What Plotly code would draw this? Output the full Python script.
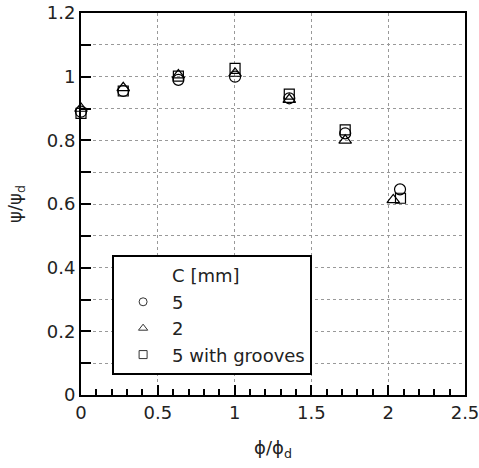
import plotly.graph_objects as go

phi_c5 = [0.0, 0.275, 0.634, 1.003, 1.356, 1.72, 2.077]
psi_c5 = [0.89, 0.955, 0.99, 1.0, 0.932, 0.822, 0.646]
phi_c2 = [0.0, 0.275, 0.634, 1.003, 1.356, 1.72, 2.033]
psi_c2 = [0.90, 0.965, 1.005, 1.01, 0.928, 0.80, 0.613]
phi_g = [0.0, 0.275, 0.634, 1.003, 1.356, 1.72, 2.08]
psi_g = [0.885, 0.955, 1.002, 1.026, 0.945, 0.833, 0.618]

series = [
    ("5", phi_c5, psi_c5, "circle-open", 11),
    ("2", phi_c2, psi_c2, "triangle-up-open", 11),
    ("5 with grooves", phi_g, psi_g, "square-open", 10),
]

FONT = "DejaVu Sans, Arial, sans-serif"
XR = [0, 2.5]
YR = [0, 1.2000001]

fig = go.Figure()
# minor-tick helper axes
fig.add_trace(go.Scatter(x=[None], y=[None], xaxis="x2", yaxis="y2",
                         showlegend=False, hoverinfo="skip"))
# legend header entry (invisible marker)
fig.add_trace(go.Scatter(x=[None], y=[None], mode="markers", name="C [mm]",
                         marker=dict(symbol="circle-open", size=8, color="rgba(0,0,0,0)",
                                     line=dict(color="rgba(0,0,0,0)"))))
for name, xs, ys, sym, sz in series:
    fig.add_trace(go.Scatter(x=xs, y=ys, mode="markers", name=name, showlegend=False,
                             cliponaxis=False,
                             marker=dict(symbol=sym, size=sz, color="black",
                                         line=dict(width=1.2, color="black"))))
    fig.add_trace(go.Scatter(x=[None], y=[None], mode="markers", name=name,
                             marker=dict(symbol=sym, size=8, color="#333333",
                                         line=dict(width=1, color="#333333"))))

grid = dict(gridcolor="#999999", griddash="dot", gridwidth=1)

fig.update_layout(
    width=479, height=468,
    margin=dict(l=81, r=14, t=13, b=73),
    plot_bgcolor="white", paper_bgcolor="white",
    font=dict(family=FONT, size=18, color="#222222"),
    showlegend=True,
    legend=dict(x=0.081, y=0.366, xanchor="left", yanchor="top",
                bordercolor="black", borderwidth=2, bgcolor="white",
                font=dict(size=18), itemwidth=48, tracegroupgap=0),
    xaxis=dict(range=XR, tickmode="linear", dtick=0.5, tick0=0,
               ticks="inside", ticklen=10, automargin=False, ticklabeloverflow="allow",
               tickwidth=1.5, tickcolor="black", showline=True, linecolor="black",
               linewidth=2, mirror=True, zeroline=False, showgrid=True, **grid,
               title=dict(text="ϕ/ϕ<sub>d</sub>", standoff=20, font=dict(size=18)),
               tickfont=dict(size=18)),
    yaxis=dict(range=YR, tickmode="linear", dtick=0.2, tick0=0,
               ticks="inside", ticklen=10, automargin=False, ticklabeloverflow="allow",
               tickwidth=1.5, tickcolor="black", showline=True, linecolor="black",
               linewidth=2, mirror=True, zeroline=False, showgrid=True, **grid,
               title=dict(text="ψ/ψ<sub>d</sub>", standoff=20, font=dict(size=18)),
               tickfont=dict(size=18)),
    xaxis2=dict(range=XR, overlaying="x", anchor="y", side="bottom",
                tickmode="linear", dtick=0.1, tick0=0, ticks="inside", ticklen=6,
                tickwidth=1.5, tickcolor="black", showticklabels=False,
                showgrid=False, zeroline=False, showline=False, automargin=False),
    yaxis2=dict(range=YR, overlaying="y", anchor="x", side="left",
                tickmode="linear", dtick=0.1, tick0=0, ticks="inside", ticklen=10,
                tickwidth=1.5, tickcolor="black", showticklabels=False,
                showgrid=True, **grid, zeroline=False, showline=False, automargin=False),
)

fig.write_html("out.html")
